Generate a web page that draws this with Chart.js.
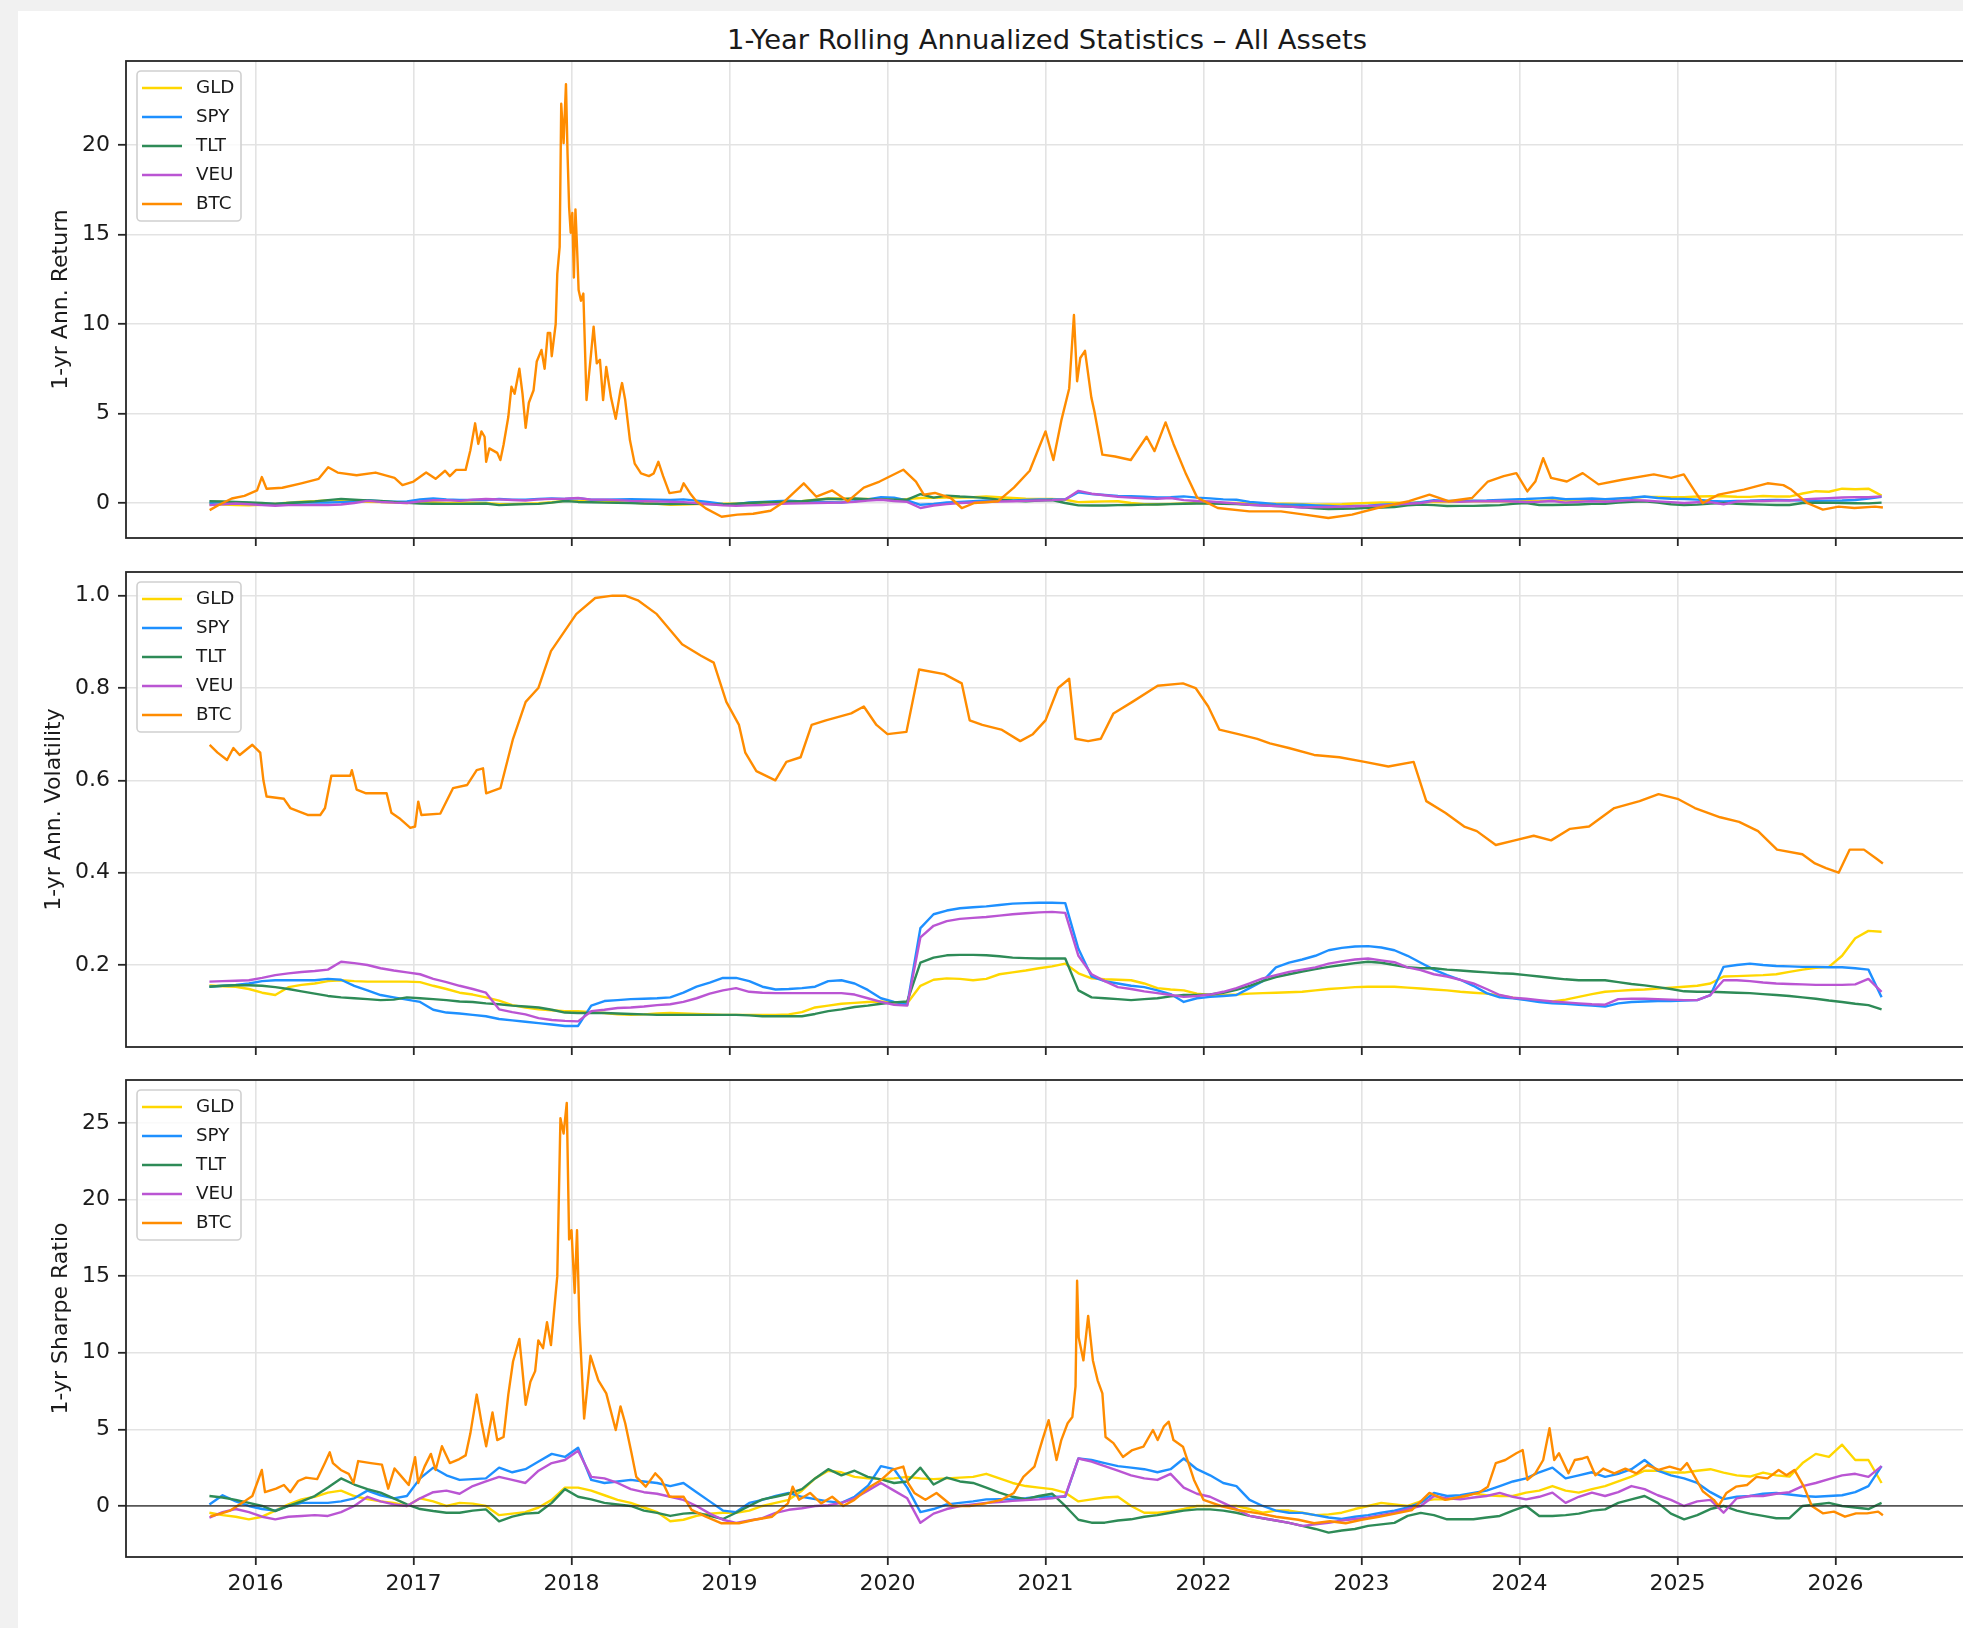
<!DOCTYPE html>
<html><head><meta charset="utf-8">
<script src="https://cdn.jsdelivr.net/npm/chart.js@4.4.1/dist/chart.umd.min.js"></script>
<style>
html,body{margin:0;padding:0;overflow:hidden;background:#f1f1f1;width:1963px;height:1628px;}
#fig{position:absolute;left:18px;top:11px;width:1990px;height:1640px;background:#fff;}
canvas{position:absolute;left:0;}
#title{position:absolute;left:126px;width:1842px;top:25px;height:30px;line-height:30px;text-align:center;
 font-family:"DejaVu Sans",sans-serif;font-size:27.4px;color:#1a1a1a;white-space:nowrap;}
</style></head>
<body>
<div id="fig"></div>
<div id="title">1-Year Rolling Annualized Statistics – All Assets</div>
<canvas id="c1" width="1990" height="570" style="top:0px"></canvas>
<canvas id="c2" width="1990" height="540" style="top:540px"></canvas>
<canvas id="c3" width="1990" height="588" style="top:1040px"></canvas>
<script>
// ---------- categories / ticks ----------
const assets = ['GLD','SPY','TLT','VEU','BTC'];
const assetColors = ['#FFD700','#1E90FF','#2E8B57','#BA55D3','#FF8C00'];
const yearTicks = [2016,2017,2018,2019,2020,2021,2022,2023,2024,2025,2026];
const returnTicks = [0,5,10,15,20];
const volTicks = [0.2,0.4,0.6,0.8,1.0];
const sharpeTicks = [0,5,10,15,20,25];
const firstMonth = [2015, 9];   // monthly series start (Sep 2015), 128 months to Apr 2026
const monthCount = 128;

// ---------- 1-yr annualized return (monthly, Sep-2015 .. Apr-2026) ----------
const retGLD = [
 -0.07,-0.09,-0.11,-0.13,
 -0.10,-0.04,0.02,0.07,0.10,0.14,0.17,0.11,0.07,0.05,0.03,0.00,
 0.08,0.05,0.00,0.03,0.02,0.00,-0.07,-0.06,-0.04,-0.01,0.04,0.12,
 0.12,0.10,0.07,0.04,0.02,-0.01,-0.04,-0.10,-0.09,-0.06,-0.05,-0.04,
 -0.04,-0.03,0.00,0.02,0.04,0.10,0.19,0.26,0.26,0.22,0.22,0.21,
 0.21,0.22,0.28,0.29,0.31,0.31,0.32,0.36,0.32,0.28,0.24,0.23,
 0.22,0.18,0.05,0.07,0.09,0.10,0.00,-0.07,-0.07,-0.05,-0.03,0.00,
 0.00,0.00,0.00,-0.03,-0.06,-0.04,-0.04,-0.06,-0.09,-0.08,-0.07,-0.03,
 0.00,0.03,0.02,0.00,0.05,0.06,0.06,0.07,0.11,0.10,0.09,0.08,
 0.11,0.12,0.16,0.13,0.11,0.15,0.18,0.23,0.28,0.34,0.34,0.33,
 0.33,0.36,0.38,0.38,0.35,0.34,0.39,0.36,0.36,0.53,0.66,0.63,
 0.80,0.77,0.80,0.41];
const retSPY = [
 0.00,0.05,0.03,0.00,
 -0.03,-0.05,0.00,0.03,0.03,0.03,0.05,0.08,0.15,0.10,0.07,0.09,
 0.20,0.25,0.20,0.17,0.17,0.17,0.22,0.18,0.19,0.22,0.25,0.22,
 0.27,0.19,0.18,0.20,0.21,0.20,0.19,0.17,0.20,0.13,0.05,-0.05,
 -0.07,0.03,0.06,0.10,0.13,0.09,0.07,0.05,0.03,0.10,0.20,0.33,
 0.30,0.14,-0.10,-0.05,0.03,0.06,0.10,0.14,0.15,0.14,0.17,0.20,
 0.20,0.20,0.60,0.50,0.45,0.40,0.38,0.35,0.31,0.33,0.37,0.30,
 0.26,0.20,0.18,0.06,0.00,-0.06,-0.09,-0.10,-0.13,-0.17,-0.20,-0.17,
 -0.15,-0.10,-0.07,-0.02,0.04,0.16,0.12,0.12,0.13,0.14,0.17,0.20,
 0.22,0.26,0.29,0.21,0.23,0.25,0.21,0.25,0.29,0.36,0.28,0.24,
 0.22,0.19,0.12,0.09,0.12,0.13,0.16,0.17,0.15,0.13,0.12,0.13,
 0.14,0.17,0.25,0.35];
const retTLT = [
 0.10,0.09,0.06,0.03,
 0.00,-0.05,0.00,0.04,0.09,0.16,0.23,0.18,0.14,0.11,0.06,0.01,
 -0.03,-0.04,-0.05,-0.05,-0.04,-0.03,-0.12,-0.08,-0.06,-0.05,0.02,0.11,
 0.06,0.04,0.02,0.01,0.00,-0.03,-0.04,-0.06,-0.05,-0.04,-0.06,-0.08,
 -0.04,0.00,0.04,0.05,0.07,0.10,0.17,0.24,0.21,0.25,0.21,0.20,
 0.18,0.19,0.50,0.30,0.41,0.36,0.33,0.27,0.19,0.13,0.10,0.14,
 0.17,0.00,-0.13,-0.14,-0.14,-0.12,-0.11,-0.09,-0.08,-0.06,-0.04,-0.03,
 -0.03,-0.04,-0.06,-0.10,-0.13,-0.17,-0.20,-0.24,-0.29,-0.34,-0.32,-0.31,
 -0.27,-0.25,-0.22,-0.13,-0.09,-0.12,-0.17,-0.16,-0.16,-0.14,-0.12,-0.05,
 0.00,-0.11,-0.11,-0.10,-0.08,-0.05,-0.04,0.03,0.07,0.10,0.03,-0.07,
 -0.12,-0.09,-0.03,0.00,-0.04,-0.07,-0.09,-0.11,-0.11,0.00,0.01,0.02,
 0.00,-0.01,-0.02,0.02];
const retVEU = [
 -0.12,-0.07,-0.03,-0.07,
 -0.12,-0.15,-0.12,-0.12,-0.11,-0.12,-0.08,0.00,0.12,0.06,0.02,0.00,
 0.09,0.15,0.16,0.12,0.19,0.22,0.20,0.17,0.14,0.20,0.23,0.24,
 0.28,0.19,0.19,0.16,0.12,0.10,0.09,0.07,0.05,0.00,-0.07,-0.13,
 -0.16,-0.13,-0.11,-0.06,-0.03,-0.02,0.00,0.01,0.03,0.07,0.13,0.18,
 0.11,0.06,-0.28,-0.14,-0.06,0.00,0.03,0.06,0.08,0.10,0.12,0.14,
 0.16,0.20,0.68,0.52,0.43,0.35,0.30,0.26,0.24,0.28,0.16,0.11,
 0.08,0.03,-0.03,-0.10,-0.14,-0.17,-0.20,-0.25,-0.23,-0.22,-0.20,-0.18,
 -0.16,-0.13,-0.09,-0.04,0.00,0.12,0.09,0.07,0.09,0.10,0.11,0.08,
 0.05,0.07,0.11,0.02,0.07,0.10,0.07,0.11,0.16,0.14,0.09,0.05,
 0.00,0.04,0.05,-0.07,0.08,0.11,0.11,0.13,0.14,0.20,0.24,0.27,
 0.31,0.33,0.32,0.37];
const btcReturn = [
 [2015.71,-0.4],[2015.77,-0.1],[2015.85,0.25],[2015.93,0.4],[2016.01,0.7],[2016.04,1.45],[2016.07,0.8],
 [2016.17,0.85],[2016.29,1.1],[2016.4,1.35],[2016.46,2.0],[2016.52,1.7],[2016.64,1.55],[2016.76,1.7],
 [2016.88,1.4],[2016.93,1.0],[2017.0,1.2],[2017.08,1.7],[2017.14,1.35],[2017.2,1.8],[2017.23,1.5],
 [2017.27,1.85],[2017.33,1.85],[2017.36,2.95],[2017.39,4.45],[2017.41,3.3],[2017.43,4.0],[2017.45,3.7],
 [2017.46,2.3],[2017.48,3.05],[2017.53,2.8],[2017.55,2.4],[2017.57,3.25],[2017.6,4.8],[2017.62,6.5],
 [2017.64,6.1],[2017.67,7.5],[2017.69,6.1],[2017.71,4.2],[2017.73,5.6],[2017.76,6.3],[2017.78,7.9],
 [2017.81,8.55],[2017.83,7.5],[2017.85,9.5],[2017.865,9.5],[2017.875,8.2],[2017.9,10.0],[2017.91,12.8],
 [2017.925,14.3],[2017.935,22.3],[2017.95,20.1],[2017.965,23.4],[2017.975,19.5],[2017.985,16.5],
 [2017.995,15.1],[2018.005,16.2],[2018.015,12.6],[2018.025,16.4],[2018.035,14.3],[2018.045,11.9],
 [2018.06,11.3],[2018.075,11.7],[2018.095,5.75],[2018.12,8.0],[2018.14,9.85],[2018.16,7.8],[2018.18,8.0],
 [2018.2,5.75],[2018.22,7.6],[2018.25,5.9],[2018.28,4.7],[2018.31,6.3],[2018.32,6.7],[2018.34,5.75],
 [2018.37,3.5],[2018.4,2.2],[2018.44,1.65],[2018.49,1.5],[2018.52,1.65],[2018.55,2.3],[2018.58,1.5],
 [2018.62,0.55],[2018.69,0.65],[2018.71,1.1],[2018.75,0.55],[2018.79,0.1],[2018.85,-0.3],[2018.95,-0.77],
 [2019.05,-0.65],[2019.15,-0.6],[2019.26,-0.43],[2019.35,0.1],[2019.47,1.1],[2019.55,0.35],[2019.65,0.7],
 [2019.75,0.1],[2019.85,0.86],[2019.95,1.2],[2020.1,1.86],[2020.18,1.2],[2020.23,0.47],[2020.3,0.56],
 [2020.4,0.28],[2020.47,-0.28],[2020.55,0.0],[2020.7,0.1],[2020.8,0.86],[2020.9,1.8],[2021.0,4.0],
 [2021.05,2.4],[2021.1,4.6],[2021.15,6.4],[2021.18,10.5],[2021.2,6.8],[2021.22,8.1],[2021.25,8.5],
 [2021.29,5.9],[2021.31,5.1],[2021.36,2.7],[2021.44,2.6],[2021.54,2.4],[2021.64,3.7],[2021.69,2.9],
 [2021.76,4.5],[2021.81,3.3],[2021.89,1.6],[2021.96,0.3],[2022.09,-0.28],[2022.29,-0.47],[2022.49,-0.47],
 [2022.64,-0.65],[2022.79,-0.84],[2022.94,-0.65],[2023.1,-0.28],[2023.3,0.1],[2023.43,0.47],[2023.55,0.1],
 [2023.7,0.28],[2023.8,1.2],[2023.9,1.5],[2023.98,1.67],[2024.05,0.65],[2024.1,1.2],[2024.15,2.5],
 [2024.2,1.4],[2024.3,1.2],[2024.4,1.67],[2024.5,1.04],[2024.65,1.3],[2024.85,1.6],[2024.96,1.4],
 [2025.04,1.6],[2025.11,0.65],[2025.16,0.0],[2025.26,0.47],[2025.42,0.75],[2025.57,1.1],[2025.67,1.0],
 [2025.72,0.75],[2025.82,0.0],[2025.92,-0.37],[2026.02,-0.2],[2026.12,-0.28],[2026.25,-0.2],[2026.3,-0.25]];

// ---------- 1-yr annualized volatility ----------
const volGLD = [
 0.156,0.154,0.153,0.148,
 0.140,0.135,0.152,0.157,0.160,0.165,0.167,0.165,0.164,0.164,0.164,0.164,
 0.163,0.155,0.148,0.140,0.136,0.130,0.123,0.113,0.108,0.104,0.102,0.100,
 0.100,0.098,0.096,0.093,0.092,0.093,0.095,0.096,0.095,0.094,0.093,0.092,
 0.092,0.092,0.092,0.092,0.093,0.098,0.108,0.112,0.116,0.118,0.120,0.121,
 0.119,0.117,0.155,0.168,0.171,0.170,0.167,0.170,0.180,0.184,0.188,0.193,
 0.197,0.203,0.182,0.171,0.169,0.168,0.167,0.160,0.150,0.147,0.145,0.138,
 0.135,0.135,0.136,0.138,0.139,0.140,0.141,0.142,0.145,0.148,0.150,0.152,
 0.153,0.153,0.153,0.151,0.149,0.147,0.145,0.142,0.140,0.138,0.134,0.129,
 0.125,0.122,0.121,0.125,0.131,0.137,0.142,0.144,0.146,0.147,0.149,0.151,
 0.153,0.155,0.160,0.175,0.176,0.177,0.178,0.180,0.185,0.190,0.194,0.196,
 0.220,0.258,0.274,0.272];
const volSPY = [
 0.153,0.155,0.157,0.160,
 0.165,0.167,0.167,0.167,0.167,0.170,0.168,0.155,0.145,0.135,0.130,0.125,
 0.120,0.103,0.097,0.095,0.092,0.089,0.083,0.080,0.077,0.074,0.071,0.068,
 0.068,0.112,0.122,0.124,0.126,0.127,0.128,0.130,0.140,0.153,0.162,0.172,
 0.172,0.165,0.153,0.147,0.148,0.150,0.153,0.165,0.167,0.160,0.146,0.128,
 0.120,0.114,0.280,0.310,0.318,0.323,0.325,0.327,0.330,0.333,0.334,0.335,
 0.335,0.334,0.235,0.175,0.165,0.160,0.155,0.152,0.145,0.137,0.120,0.128,
 0.131,0.133,0.135,0.150,0.165,0.195,0.205,0.212,0.220,0.232,0.237,0.240,
 0.241,0.238,0.232,0.220,0.205,0.190,0.178,0.168,0.155,0.139,0.130,0.128,
 0.124,0.120,0.117,0.116,0.114,0.112,0.110,0.117,0.120,0.121,0.122,0.122,
 0.123,0.124,0.135,0.196,0.200,0.203,0.200,0.198,0.197,0.196,0.196,0.195,
 0.195,0.193,0.190,0.130];
const volTLT = [
 0.153,0.155,0.156,0.156,
 0.155,0.152,0.148,0.143,0.138,0.133,0.130,0.128,0.126,0.124,0.125,0.130,
 0.128,0.126,0.124,0.121,0.120,0.117,0.115,0.112,0.110,0.108,0.103,0.097,
 0.096,0.096,0.096,0.095,0.094,0.093,0.092,0.092,0.092,0.092,0.092,0.092,
 0.092,0.091,0.089,0.089,0.089,0.089,0.094,0.100,0.104,0.109,0.112,0.116,
 0.119,0.121,0.205,0.216,0.221,0.222,0.222,0.221,0.219,0.216,0.215,0.214,
 0.214,0.214,0.145,0.130,0.128,0.126,0.124,0.126,0.128,0.132,0.135,0.135,
 0.136,0.140,0.146,0.155,0.165,0.174,0.180,0.186,0.191,0.196,0.200,0.204,
 0.207,0.205,0.200,0.195,0.193,0.193,0.190,0.188,0.186,0.184,0.182,0.181,
 0.178,0.175,0.172,0.169,0.167,0.167,0.167,0.163,0.159,0.156,0.152,0.148,
 0.143,0.142,0.142,0.141,0.140,0.139,0.137,0.135,0.133,0.130,0.127,0.123,
 0.120,0.116,0.113,0.104];
const volVEU = [
 0.164,0.165,0.166,0.167,
 0.172,0.178,0.182,0.185,0.187,0.190,0.207,0.204,0.200,0.193,0.188,0.184,
 0.180,0.170,0.163,0.155,0.148,0.140,0.104,0.098,0.093,0.085,0.081,0.079,
 0.078,0.100,0.103,0.107,0.108,0.110,0.113,0.115,0.120,0.128,0.138,0.145,
 0.150,0.142,0.140,0.139,0.139,0.139,0.139,0.139,0.139,0.136,0.128,0.120,
 0.114,0.112,0.260,0.285,0.295,0.300,0.302,0.304,0.307,0.310,0.312,0.314,
 0.315,0.313,0.220,0.180,0.165,0.152,0.148,0.143,0.139,0.135,0.131,0.133,
 0.136,0.142,0.150,0.160,0.171,0.178,0.185,0.190,0.195,0.203,0.208,0.212,
 0.214,0.210,0.206,0.195,0.189,0.180,0.175,0.168,0.160,0.148,0.135,0.129,
 0.127,0.124,0.121,0.119,0.117,0.115,0.114,0.126,0.127,0.127,0.126,0.125,
 0.124,0.124,0.135,0.167,0.167,0.165,0.162,0.160,0.159,0.158,0.157,0.157,
 0.157,0.158,0.170,0.142];
const btcVol = [
 [2015.71,0.677],[2015.76,0.66],[2015.82,0.644],[2015.86,0.67],[2015.9,0.655],[2015.98,0.677],[2016.03,0.66],
 [2016.05,0.6],[2016.07,0.565],[2016.18,0.56],[2016.22,0.54],[2016.33,0.525],[2016.41,0.525],[2016.44,0.54],
 [2016.48,0.61],[2016.6,0.61],[2016.61,0.622],[2016.64,0.58],[2016.7,0.572],[2016.83,0.572],[2016.86,0.53],
 [2016.91,0.518],[2016.98,0.497],[2017.01,0.5],[2017.03,0.554],[2017.05,0.525],[2017.17,0.528],[2017.25,0.583],
 [2017.34,0.59],[2017.4,0.622],[2017.44,0.626],[2017.46,0.572],[2017.55,0.583],[2017.63,0.69],[2017.71,0.77],
 [2017.79,0.8],[2017.87,0.88],[2017.95,0.92],[2018.03,0.96],[2018.15,0.995],[2018.26,1.0],[2018.34,1.0],
 [2018.42,0.99],[2018.54,0.96],[2018.7,0.895],[2018.82,0.87],[2018.9,0.855],[2018.98,0.77],[2019.06,0.72],
 [2019.1,0.66],[2019.17,0.62],[2019.29,0.6],[2019.36,0.64],[2019.45,0.65],[2019.52,0.72],[2019.61,0.73],
 [2019.77,0.745],[2019.85,0.76],[2019.93,0.72],[2020.0,0.70],[2020.12,0.705],[2020.2,0.84],[2020.36,0.83],
 [2020.47,0.81],[2020.52,0.73],[2020.6,0.72],[2020.72,0.71],[2020.84,0.685],[2020.92,0.70],[2021.0,0.73],
 [2021.08,0.8],[2021.15,0.82],[2021.19,0.69],[2021.27,0.685],[2021.35,0.69],[2021.43,0.745],[2021.55,0.77],
 [2021.71,0.805],[2021.87,0.81],[2021.95,0.8],[2022.03,0.76],[2022.1,0.71],[2022.22,0.70],[2022.34,0.69],
 [2022.42,0.68],[2022.54,0.67],[2022.7,0.655],[2022.86,0.65],[2023.02,0.64],[2023.17,0.63],[2023.33,0.64],
 [2023.41,0.555],[2023.53,0.53],[2023.65,0.5],[2023.73,0.49],[2023.85,0.46],[2023.97,0.47],[2024.09,0.48],
 [2024.2,0.47],[2024.32,0.495],[2024.44,0.5],[2024.6,0.54],[2024.76,0.555],[2024.88,0.57],[2025.0,0.56],
 [2025.11,0.54],[2025.27,0.52],[2025.39,0.51],[2025.51,0.49],[2025.63,0.45],[2025.79,0.44],[2025.87,0.42],
 [2025.94,0.41],[2026.02,0.40],[2026.09,0.45],[2026.18,0.45],[2026.26,0.43],[2026.3,0.42]];

// ---------- 1-yr Sharpe ratio ----------
const shGLD = [
 -0.44,-0.6,-0.7,-0.87,
 -0.7,-0.3,0.1,0.43,0.6,0.87,1.0,0.65,0.45,0.3,0.2,0.0,
 0.5,0.3,0.0,0.2,0.15,0.0,-0.6,-0.5,-0.4,-0.1,0.4,1.2,
 1.2,1.0,0.7,0.4,0.2,-0.1,-0.4,-1.0,-0.9,-0.65,-0.5,-0.44,
 -0.44,-0.3,0.0,0.2,0.4,1.0,1.8,2.3,2.2,1.9,1.8,1.75,
 1.8,1.9,1.8,1.75,1.8,1.85,1.9,2.1,1.8,1.5,1.3,1.2,
 1.1,0.87,0.3,0.43,0.55,0.6,0.0,-0.44,-0.44,-0.35,-0.2,0.0,
 0.0,0.0,0.0,-0.2,-0.44,-0.3,-0.3,-0.44,-0.6,-0.55,-0.44,-0.2,
 0.0,0.2,0.1,0.0,0.3,0.43,0.43,0.5,0.8,0.7,0.65,0.65,
 0.87,1.0,1.3,1.0,0.87,1.1,1.3,1.6,1.92,2.3,2.3,2.18,
 2.18,2.3,2.4,2.18,2.0,1.92,2.18,2.0,1.92,2.8,3.4,3.2,
 4.0,3.0,3.0,1.5];
const shSPY = [
 0.1,0.7,0.3,0.0,
 -0.2,-0.3,0.0,0.2,0.2,0.2,0.3,0.5,1.0,0.7,0.5,0.65,
 1.8,2.5,2.0,1.7,1.75,1.8,2.5,2.2,2.4,2.9,3.4,3.2,
 3.8,1.7,1.5,1.6,1.7,1.6,1.5,1.3,1.5,0.9,0.3,-0.3,
 -0.4,0.2,0.4,0.65,0.85,0.6,0.45,0.3,0.2,0.6,1.3,2.6,
 2.4,1.2,-0.4,-0.2,0.1,0.2,0.3,0.43,0.45,0.43,0.5,0.6,
 0.6,0.6,3.1,3.0,2.8,2.6,2.5,2.4,2.2,2.4,3.1,2.4,
 2.0,1.5,1.3,0.4,0.0,-0.3,-0.44,-0.45,-0.6,-0.75,-0.85,-0.7,
 -0.6,-0.44,-0.3,-0.1,0.2,0.85,0.65,0.7,0.85,1.0,1.3,1.6,
 1.8,2.2,2.5,1.8,2.0,2.2,1.9,2.1,2.4,3.0,2.3,2.0,
 1.8,1.5,0.9,0.45,0.6,0.65,0.8,0.85,0.75,0.65,0.6,0.65,
 0.7,0.9,1.3,2.6];
const shTLT = [
 0.65,0.55,0.4,0.2,
 0.0,-0.33,0.0,0.3,0.65,1.2,1.8,1.4,1.1,0.87,0.5,0.1,
 -0.2,-0.33,-0.44,-0.44,-0.3,-0.22,-1.0,-0.7,-0.5,-0.44,0.2,1.1,
 0.6,0.43,0.2,0.1,0.0,-0.3,-0.45,-0.65,-0.5,-0.44,-0.65,-0.85,
 -0.44,0.0,0.43,0.6,0.8,1.1,1.8,2.4,2.0,2.3,1.9,1.74,
 1.5,1.6,2.5,1.4,1.85,1.6,1.5,1.2,0.87,0.6,0.45,0.65,
 0.8,0.0,-0.9,-1.09,-1.09,-0.95,-0.87,-0.7,-0.6,-0.44,-0.3,-0.22,
 -0.22,-0.3,-0.44,-0.65,-0.8,-0.95,-1.1,-1.3,-1.5,-1.74,-1.6,-1.5,
 -1.3,-1.2,-1.1,-0.65,-0.45,-0.6,-0.87,-0.87,-0.87,-0.75,-0.65,-0.3,
 0.0,-0.65,-0.65,-0.6,-0.5,-0.3,-0.22,0.2,0.43,0.65,0.2,-0.5,
 -0.87,-0.6,-0.2,0.0,-0.3,-0.5,-0.65,-0.8,-0.8,0.0,0.1,0.2,
 0.0,-0.1,-0.2,0.2];
const shVEU = [
 -0.76,-0.4,-0.2,-0.4,
 -0.7,-0.87,-0.7,-0.65,-0.6,-0.65,-0.4,0.0,0.6,0.3,0.1,0.0,
 0.5,0.9,1.0,0.8,1.3,1.6,1.9,1.7,1.5,2.3,2.8,3.0,
 3.6,1.9,1.8,1.5,1.1,0.9,0.8,0.6,0.4,0.0,-0.5,-0.9,
 -1.1,-0.95,-0.8,-0.45,-0.25,-0.15,0.0,0.05,0.2,0.5,1.0,1.5,
 1.0,0.5,-1.1,-0.5,-0.2,0.0,0.1,0.2,0.25,0.33,0.38,0.43,
 0.5,0.65,3.1,2.9,2.6,2.3,2.0,1.8,1.7,2.1,1.2,0.8,
 0.6,0.2,-0.2,-0.65,-0.8,-0.95,-1.1,-1.3,-1.2,-1.1,-0.95,-0.85,
 -0.75,-0.6,-0.44,-0.2,0.0,0.65,0.5,0.43,0.55,0.65,0.85,0.6,
 0.43,0.6,0.87,0.2,0.6,0.87,0.65,0.9,1.3,1.1,0.7,0.4,
 0.0,0.3,0.4,-0.44,0.5,0.65,0.65,0.8,0.9,1.3,1.5,1.75,
 2.0,2.1,1.9,2.6];
const btcSharpe = [
 [2015.715,-0.67],[2015.78,-0.5],[2015.84,-0.3],[2015.93,0.3],[2015.98,0.65],[2016.04,2.35],[2016.06,0.9],
 [2016.13,1.13],[2016.18,1.37],[2016.22,0.9],[2016.27,1.63],[2016.32,1.85],[2016.39,1.75],[2016.44,2.82],
 [2016.47,3.5],[2016.49,2.8],[2016.54,2.35],[2016.59,2.1],[2016.62,1.5],[2016.65,2.93],[2016.73,2.8],
 [2016.8,2.7],[2016.84,1.13],[2016.88,2.45],[2016.93,1.85],[2016.97,1.37],[2017.01,3.18],[2017.03,1.5],
 [2017.07,2.57],[2017.11,3.4],[2017.14,2.35],[2017.18,3.9],[2017.23,2.8],[2017.29,3.06],[2017.33,3.3],
 [2017.36,4.74],[2017.4,7.27],[2017.43,5.47],[2017.46,3.9],[2017.5,6.1],[2017.53,4.3],[2017.57,4.5],
 [2017.6,7.27],[2017.63,9.43],[2017.67,10.9],[2017.69,8.8],[2017.71,6.6],[2017.74,8.1],[2017.77,8.8],
 [2017.79,10.8],[2017.82,10.3],[2017.845,12.0],[2017.87,10.5],[2017.91,15.0],[2017.93,25.3],[2017.95,24.3],
 [2017.97,26.3],[2017.985,17.4],[2018.0,18.0],[2018.02,13.9],[2018.035,18.0],[2018.05,12.0],[2018.08,5.7],
 [2018.12,9.8],[2018.17,8.2],[2018.22,7.35],[2018.28,4.96],[2018.31,6.5],[2018.34,5.4],[2018.38,3.44],
 [2018.41,1.9],[2018.47,1.26],[2018.53,2.13],[2018.57,1.7],[2018.62,0.6],[2018.71,0.6],[2018.76,-0.26],
 [2018.85,-0.7],[2018.95,-1.13],[2019.06,-1.13],[2019.16,-0.9],[2019.27,-0.7],[2019.37,0.17],[2019.4,1.26],
 [2019.44,0.4],[2019.51,0.85],[2019.58,0.17],[2019.65,0.6],[2019.72,0.0],[2019.79,0.4],[2019.89,1.26],
 [2019.96,1.7],[2020.03,2.35],[2020.1,2.57],[2020.13,1.5],[2020.17,0.85],[2020.24,0.4],[2020.31,0.85],
 [2020.41,0.0],[2020.52,0.0],[2020.62,0.17],[2020.72,0.4],[2020.8,0.85],[2020.86,1.9],[2020.93,2.57],
 [2020.98,4.3],[2021.02,5.6],[2021.07,3.0],[2021.1,4.3],[2021.14,5.4],[2021.17,5.8],[2021.19,7.8],
 [2021.2,14.7],[2021.21,11.0],[2021.24,9.5],[2021.27,12.4],[2021.3,9.5],[2021.33,8.2],[2021.36,7.35],
 [2021.38,4.5],[2021.43,4.1],[2021.49,3.2],[2021.55,3.65],[2021.62,3.87],[2021.68,4.96],[2021.71,4.3],
 [2021.75,5.2],[2021.78,5.5],[2021.81,4.3],[2021.87,3.87],[2021.94,1.7],[2022.0,0.4],[2022.11,0.0],
 [2022.21,-0.26],[2022.35,-0.48],[2022.46,-0.7],[2022.6,-0.9],[2022.7,-1.13],[2022.8,-1.0],[2022.9,-1.13],
 [2023.0,-0.9],[2023.11,-0.7],[2023.22,-0.48],[2023.32,-0.26],[2023.43,0.85],[2023.53,0.4],[2023.63,0.6],
 [2023.74,0.85],[2023.8,1.26],[2023.85,2.8],[2023.91,3.0],[2023.98,3.44],[2024.02,3.65],[2024.05,1.7],
 [2024.1,2.13],[2024.15,3.0],[2024.19,5.07],[2024.22,3.0],[2024.25,3.44],[2024.31,2.13],[2024.35,3.0],
 [2024.4,3.1],[2024.43,3.2],[2024.48,2.0],[2024.53,2.44],[2024.6,2.13],[2024.67,2.44],[2024.74,2.13],
 [2024.81,2.67],[2024.88,2.35],[2024.95,2.57],[2025.02,2.35],[2025.06,2.8],[2025.11,1.9],[2025.16,0.96],
 [2025.23,0.4],[2025.26,0.0],[2025.31,0.85],[2025.37,1.26],[2025.44,1.37],[2025.5,1.9],[2025.57,1.8],
 [2025.64,2.35],[2025.69,2.0],[2025.74,2.35],[2025.8,1.26],[2025.85,0.0],[2025.92,-0.48],[2025.99,-0.37],
 [2026.06,-0.7],[2026.13,-0.48],[2026.2,-0.48],[2026.27,-0.37],[2026.3,-0.6]];

// ---------- helpers ----------
const FONT = '"DejaVu Sans", sans-serif';
const X_MIN = 2015.1804, X_MAX = 2026.8386;
const monthX = [];
for (let i = 0; i < monthCount; i++) {
  const m0 = firstMonth[1] - 1 + i;
  monthX.push(firstMonth[0] + Math.floor(m0 / 12) + ((m0 % 12) + 0.5) / 12);
}
const monthly = arr => arr.map((v, i) => ({x: monthX[i], y: v}));
const paired = arr => arr.map(p => ({x: p[0], y: p[1]}));

function datasets(g, s, t, v, b) {
  const raw = [monthly(g), monthly(s), monthly(t), monthly(v), paired(b)];
  return raw.map((d, i) => ({
    label: assets[i], data: d, borderColor: assetColors[i], backgroundColor: assetColors[i],
    borderWidth: 2.4, pointRadius: 0, fill: false, tension: 0,
    borderJoinStyle: 'round', order: 5 - i
  }));
}

const framePlugin = {
  id: 'frame',
  afterDatasetsDraw(chart, args, opts) {
    const ctx = chart.ctx, ca = chart.chartArea;
    ctx.save();
    if (opts.zero) {
      const y0 = chart.scales.y.getPixelForValue(0);
      ctx.strokeStyle = 'rgba(40,40,40,0.75)'; ctx.lineWidth = 1.8;
      ctx.beginPath(); ctx.moveTo(ca.left, y0); ctx.lineTo(ca.right, y0); ctx.stroke();
    }
    ctx.strokeStyle = '#262626'; ctx.lineWidth = 1.8;
    ctx.strokeRect(ca.left, ca.top, ca.right - ca.left, ca.bottom - ca.top);
    // legend
    const bx = ca.left + 11, by = ca.top + 10, bw = 104, bh = 150, r = 4;
    ctx.beginPath();
    ctx.moveTo(bx + r, by); ctx.lineTo(bx + bw - r, by); ctx.arcTo(bx + bw, by, bx + bw, by + r, r);
    ctx.lineTo(bx + bw, by + bh - r); ctx.arcTo(bx + bw, by + bh, bx + bw - r, by + bh, r);
    ctx.lineTo(bx + r, by + bh); ctx.arcTo(bx, by + bh, bx, by + bh - r, r);
    ctx.lineTo(bx, by + r); ctx.arcTo(bx, by, bx + r, by, r); ctx.closePath();
    ctx.fillStyle = 'rgba(255,255,255,0.8)'; ctx.fill();
    ctx.strokeStyle = '#d0d0d0'; ctx.lineWidth = 1.6; ctx.stroke();
    ctx.font = '18.3px ' + FONT; ctx.textBaseline = 'middle'; ctx.textAlign = 'left';
    assets.forEach((name, i) => {
      const yy = by + 17 + 29 * i;
      ctx.strokeStyle = assetColors[i]; ctx.lineWidth = 2.4;
      ctx.beginPath(); ctx.moveTo(bx + 5, yy); ctx.lineTo(bx + 45, yy); ctx.stroke();
      ctx.fillStyle = '#1a1a1a'; ctx.fillText(name, bx + 59, yy);
    });
    ctx.restore();
  }
};

function panel(id, cfg) {
  new Chart(document.getElementById(id), {
    type: 'line',
    data: {datasets: cfg.datasets},
    plugins: [framePlugin],
    options: {
      responsive: false, animation: false, events: [], parsing: false,
      layout: {padding: {top: cfg.padTop, right: 22, left: 0, bottom: 0}},
      plugins: {legend: {display: false}, tooltip: {enabled: false}, frame: {zero: !!cfg.zero}},
      scales: {
        x: {
          type: 'linear', min: X_MIN, max: X_MAX,
          afterBuildTicks: s => { s.ticks = yearTicks.map(v => ({value: v})); },
          afterFit: s => { s.height = cfg.xHeight; },
          ticks: {display: cfg.xLabels, autoSkip: false, maxRotation: 0, padding: 6,
                  callback: v => String(v), font: {family: FONT, size: 22}, color: '#1a1a1a'},
          grid: {color: '#e3e3e3', lineWidth: 1.6, drawTicks: true, tickLength: 8, tickColor: '#262626', tickWidth: 1.8},
          border: {display: false}
        },
        y: {
          type: 'linear', min: cfg.yMin, max: cfg.yMax,
          afterBuildTicks: s => { s.ticks = cfg.yTicks.map(v => ({value: v})); },
          afterFit: s => { s.width = 126; },
          ticks: {padding: 8, callback: cfg.fmt, font: {family: FONT, size: 22}, color: '#1a1a1a'},
          grid: {color: '#e3e3e3', lineWidth: 1.6, drawTicks: true, tickLength: 8, tickColor: '#262626', tickWidth: 1.8},
          border: {display: false},
          title: {display: true, text: cfg.yTitle, font: {family: FONT, size: 22}, color: '#1a1a1a',
                  padding: {top: cfg.titlePad, bottom: 0}}
        }
      }
    }
  });
}

panel('c1', {datasets: datasets(retGLD, retSPY, retTLT, retVEU, btcReturn),
  padTop: 61, xHeight: 32, xLabels: false, yMin: -1.955, yMax: 24.69, yTicks: returnTicks,
  fmt: v => String(v), yTitle: '1-yr Ann. Return', titlePad: 48});
panel('c2', {datasets: datasets(volGLD, volSPY, volTLT, volVEU, btcVol),
  padTop: 32, xHeight: 33, xLabels: false, yMin: 0.0224, yMax: 1.0513, yTicks: volTicks,
  fmt: v => v.toFixed(1), yTitle: '1-yr Ann. Volatility', titlePad: 41});
panel('c3', {datasets: datasets(shGLD, shSPY, shTLT, shVEU, btcSharpe),
  padTop: 40, xHeight: 71, xLabels: true, yMin: -3.33, yMax: 27.8, yTicks: sharpeTicks,
  fmt: v => String(v), yTitle: '1-yr Sharpe Ratio', titlePad: 48, zero: true});
</script>
</body></html>
